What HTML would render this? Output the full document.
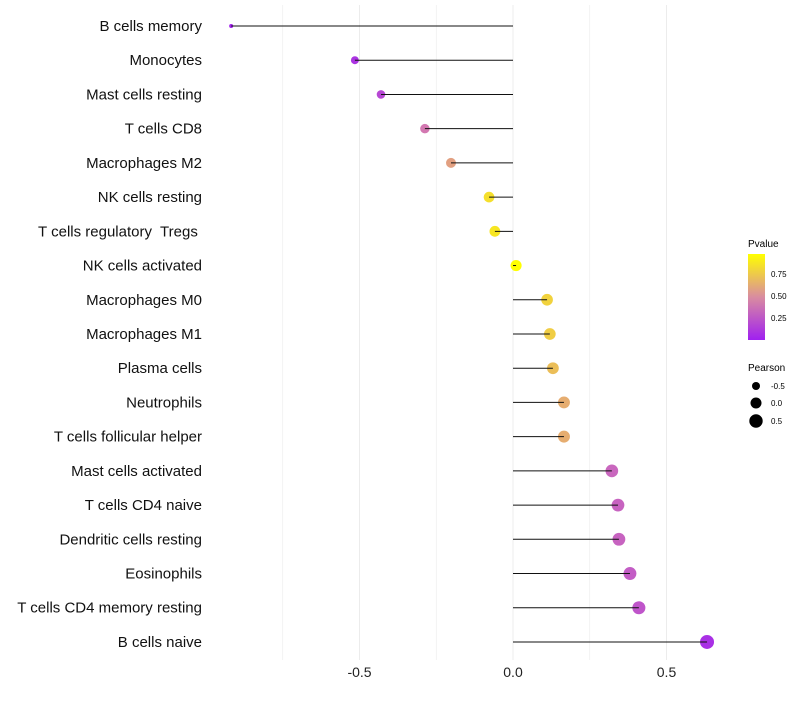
<!DOCTYPE html>
<html><head><meta charset="utf-8"><style>
body{margin:0;background:#fff;font-family:"Liberation Sans",sans-serif}
svg text{font-family:"Liberation Sans",sans-serif}
</style></head><body>
<svg id="chart" width="800" height="700">
<defs><linearGradient id="pg" x1="0" y1="1" x2="0" y2="0">
<stop offset="0" stop-color="#a020f0"/><stop offset="0.5" stop-color="#d98ca0"/><stop offset="1" stop-color="#ffff00"/>
</linearGradient></defs>
<g id="grid"></g>
<g id="dots"></g>
<g id="marks"></g>
<g id="axes"></g>
<g>
<text x="748" y="247" font-size="10">Pvalue</text>
<rect x="748" y="254" width="17" height="86" fill="url(#pg)"/>
<text x="771" y="277" font-size="8">0.75</text>
<text x="771" y="299" font-size="8">0.50</text>
<text x="771" y="321" font-size="8">0.25</text>
</g>
<g>
<text x="748" y="371" font-size="10">Pearson</text>
<circle cx="756" cy="386" r="4"/>
<text x="771" y="389" font-size="8">-0.5</text>
<circle cx="756" cy="403" r="5.5"/>
<text x="771" y="406" font-size="8">0.0</text>
<circle cx="756" cy="421" r="6.7"/>
<text x="771" y="424" font-size="8">0.5</text>
</g>
</svg>
<script>
const categories=["B cells memory","Monocytes","Mast cells resting","T cells CD8","Macrophages M2","NK cells resting","T cells regulatory  Tregs ","NK cells activated","Macrophages M0","Macrophages M1","Plasma cells","Neutrophils","T cells follicular helper","Mast cells activated","T cells CD4 naive","Dendritic cells resting","Eosinophils","T cells CD4 memory resting","B cells naive"];
const pearson=[-0.918,-0.515,-0.43,-0.287,-0.202,-0.078,-0.059,0.01,0.111,0.12,0.13,0.166,0.166,0.322,0.342,0.345,0.381,0.41,0.632];
const pvalue=[0.02,0.1,0.2,0.45,0.62,0.87,0.9,1.0,0.82,0.8,0.74,0.67,0.67,0.36,0.34,0.34,0.31,0.27,0.08];
const xTicks=[-0.5,0,0.5];
const xTickLabels=["-0.5","0.0","0.5"];
const xGrid=[-0.75,-0.25,0.25];
const NS="http://www.w3.org/2000/svg";
const x=v=>513+v*307;
const y=i=>26+i*34.22;
const rScale=v=>Math.sqrt(4+(v+0.92)/1.55*45);
function lerp(a,b,t){return a.map((c,k)=>Math.round(c+(b[k]-c)*t));}
function col(p){const P=[160,32,240],M=[217,130,170],Y=[255,255,0];
const c=p<0.5?lerp(P,M,p/0.5):lerp(M,Y,(p-0.5)/0.5);return `rgb(${c})`;}
function mk(tag,at,parent){const e=document.createElementNS(NS,tag);for(const k in at)e.setAttribute(k,at[k]);parent.appendChild(e);return e;}
const grid=document.getElementById('grid'),marks=document.getElementById('marks'),dots=document.getElementById('dots'),axes=document.getElementById('axes');
xGrid.concat(xTicks).forEach(v=>{
const l=mk('line',{x1:x(v),x2:x(v),y1:5,y2:660,stroke:'#ececec','stroke-width':xTicks.includes(v)?1:0.6},grid);


});
xTicks.forEach((v,i)=>{
const t=mk('text',{x:x(v),y:677,'font-size':14,'text-anchor':'middle',fill:'#222'},axes);t.textContent=xTickLabels[i];


});
categories.forEach((c,i)=>{
const t=mk('text',{x:202,y:y(i)+5,'font-size':15,'text-anchor':'end',fill:'#111'},axes);t.textContent=c;
t.setAttribute('xml:space','preserve');t.style.whiteSpace='pre';


const d=mk('circle',{cx:x(pearson[i]),cy:y(i),r:rScale(pearson[i]),fill:col(pvalue[i])},dots);


const l=mk('line',{x1:x(0),x2:x(pearson[i]),y1:y(i),y2:y(i),stroke:'#111','stroke-width':1},marks);


});
</script>
</body></html>
